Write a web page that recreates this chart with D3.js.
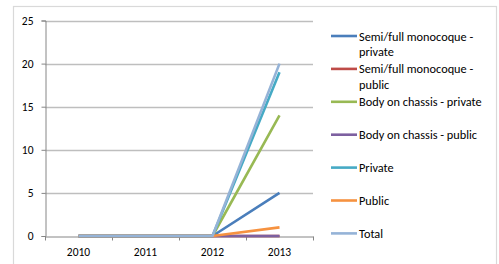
<!DOCTYPE html>
<html>
<head>
<meta charset="utf-8">
<script src="https://cdn.jsdelivr.net/npm/d3@7"></script>
<style>
  body { margin: 0; background: #fff; }
  text { font-family: Carlito, Lato, "Open Sans", sans-serif; fill: #000; }
</style>
</head>
<body>
<div id="chart"></div>
<script>
// categories and series
var years = ["2010", "2011", "2012", "2013"];
var seriesNames = [
    "Semi/full monocoque - private",
    "Semi/full monocoque - public",
    "Body on chassis - private",
    "Body on chassis - public",
    "Private",
    "Public",
    "Total"
];
var semiPrivate = [0, 0, 0, 5];
var semiPublic = [0, 0, 0, 0];
var bocPrivate = [0, 0, 0, 14];
var bocPublic = [0, 0, 0, 0];
var privateVals = [0, 0, 0, 19];
var publicVals = [0, 0, 0, 1];
var totalVals = [0, 0, 0, 20];
var yTicks = [0, 5, 10, 15, 20, 25];
var colors = ["#4A7EBB", "#BE4B48", "#98B954", "#7D60A0", "#46AAC5", "#F69240", "#95B3D7"];

var allSeries = [semiPrivate, semiPublic, bocPrivate, bocPublic, privateVals, publicVals, totalVals];

var chart_width = 499;
var chart_height = 264;

var svg = d3.select('#chart')
    .append('svg')
    .attr('width', chart_width)
    .attr('height', chart_height);

// outer frame (bottom edge is cut off in the picture)
svg.append('rect')
    .attr('x', 13.5).attr('y', 6.5)
    .attr('width', 483).attr('height', 270)
    .attr('fill', 'none')
    .attr('stroke', '#D9D9D9')
    .attr('stroke-width', 1.2);

var x = d3.scaleBand()
    .domain(years)
    .range([45, 313]);

var y = d3.scaleLinear()
    .domain([0, 25])
    .range([236, 20.5]);

// grid lines
svg.append('g')
    .selectAll('line')
    .data(yTicks.slice(1))
    .enter()
    .append('line')
    .attr('x1', 45).attr('x2', 313)
    .attr('y1', function (d) { return Math.round(y(d)) + 0.5; })
    .attr('y2', function (d) { return Math.round(y(d)) + 0.5; })
    .attr('stroke', '#BEBEBE')
    .attr('stroke-width', 1.3);

// y axis
var yAxis = svg.append('g')
    .attr('transform', 'translate(45.5,0)')
    .call(d3.axisLeft(y).tickValues(yTicks).tickSize(4).tickPadding(8));
yAxis.selectAll('text').attr('font-size', 11.5);

// x axis
var xAxis = svg.append('g')
    .attr('transform', 'translate(0,236.5)')
    .call(d3.axisBottom(x).tickSize(0).tickPadding(11));
xAxis.selectAll('text').attr('font-size', 11.5);

// tick marks at the band edges
var edges = years.map(function (d) { return x(d); }).concat([x.range()[1]]);
xAxis.selectAll('.edge')
    .data(edges)
    .enter()
    .append('line')
    .attr('class', 'edge')
    .attr('x1', function (d) { return Math.round(d) + 0.5; })
    .attr('x2', function (d) { return Math.round(d) + 0.5; })
    .attr('y1', 0).attr('y2', 4);

svg.selectAll('.domain').attr('stroke', '#868686');
svg.selectAll('.tick line').attr('stroke', '#868686');
xAxis.selectAll('.edge').attr('stroke', '#868686');

// lines
var line = d3.line()
    .x(function (d, i) { return x(years[i]) + x.bandwidth() / 2; })
    .y(function (d) { return y(d); });

svg.append('g')
    .selectAll('path')
    .data(allSeries)
    .enter()
    .append('path')
    .attr('d', line)
    .attr('fill', 'none')
    .attr('stroke', function (d, i) { return colors[i]; })
    .attr('stroke-width', 2.6)
    .attr('stroke-linejoin', 'round');

// legend
var legend = svg.append('g');
var maxTextWidth = 133;

seriesNames.forEach(function (name, i) {
    var ly = 36 + i * 32.9;
    legend.append('line')
        .attr('x1', 331).attr('x2', 357)
        .attr('y1', ly).attr('y2', ly)
        .attr('stroke', colors[i])
        .attr('stroke-width', 2.6);

    var t = legend.append('text')
        .attr('x', 359)
        .attr('y', ly + 4.5)
        .attr('font-size', 12.3);

    // wrap words like Excel does
    var words = name.split(' ');
    var current = [];
    var tspan = t.append('tspan').attr('x', 359).attr('dy', 0);
    words.forEach(function (w) {
        current.push(w);
        tspan.text(current.join(' '));
        if (tspan.node().getComputedTextLength() > maxTextWidth && current.length > 1) {
            current.pop();
            tspan.text(current.join(' '));
            current = [w];
            tspan = t.append('tspan').attr('x', 359).attr('dy', 15.5).text(w);
        }
    });
});
</script>
</body>
</html>
